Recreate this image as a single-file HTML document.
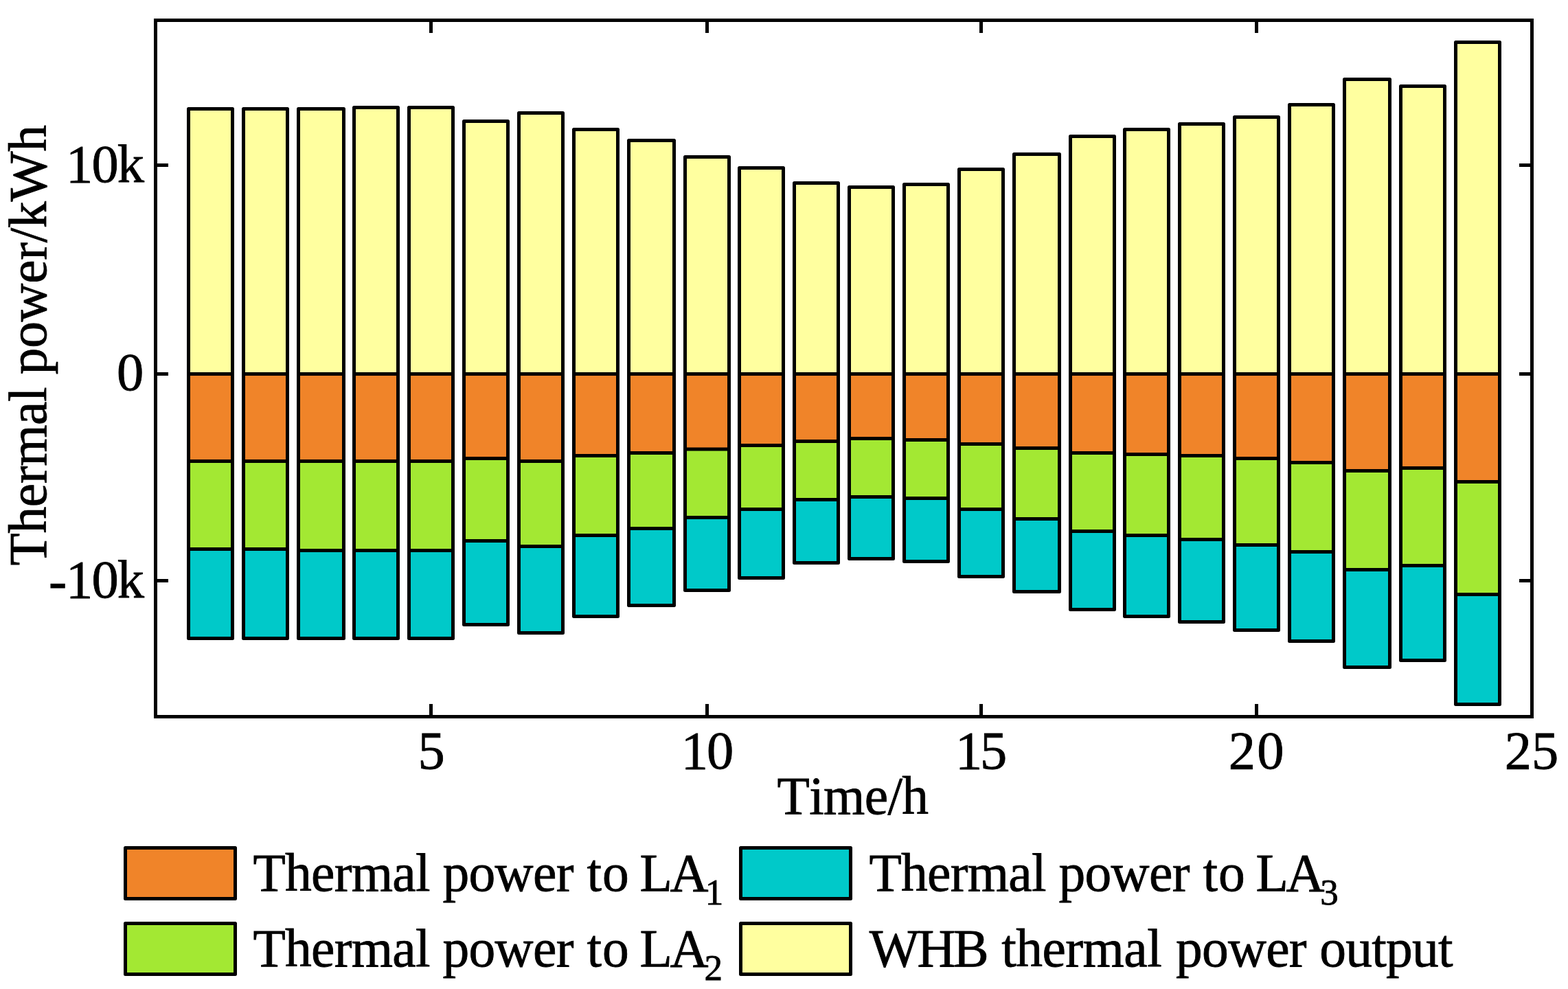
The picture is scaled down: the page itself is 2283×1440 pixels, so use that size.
<!DOCTYPE html>
<html><head><meta charset="utf-8"><title>Thermal power chart</title>
<style>html,body{margin:0;padding:0;background:#fff;width:2283px;height:1440px;overflow:hidden}</style>
</head><body>
<svg width="2283" height="1440" viewBox="0 0 2283 1440" style="display:block">
<rect x="0" y="0" width="2283" height="1440" fill="#fff"/>
<g>
<rect x="274.5" y="158.5" width="64" height="386.0" fill="#FFFF9F"/>
<rect x="274.5" y="544.5" width="64" height="127.0" fill="#F08429"/>
<rect x="274.5" y="671.5" width="64" height="128.0" fill="#A3E833"/>
<rect x="274.5" y="799.5" width="64" height="130.0" fill="#00C9C9"/>
<rect x="274.5" y="158.5" width="64" height="771.0" fill="none" stroke="#000" stroke-width="5" stroke-linejoin="round"/>
<path d="M274.5 544.5h64M274.5 671.5h64M274.5 799.5h64" stroke="#000" stroke-width="5"/>
<rect x="354.5" y="158.5" width="64" height="386.0" fill="#FFFF9F"/>
<rect x="354.5" y="544.5" width="64" height="127.0" fill="#F08429"/>
<rect x="354.5" y="671.5" width="64" height="128.0" fill="#A3E833"/>
<rect x="354.5" y="799.5" width="64" height="130.0" fill="#00C9C9"/>
<rect x="354.5" y="158.5" width="64" height="771.0" fill="none" stroke="#000" stroke-width="5" stroke-linejoin="round"/>
<path d="M354.5 544.5h64M354.5 671.5h64M354.5 799.5h64" stroke="#000" stroke-width="5"/>
<rect x="434.5" y="158.5" width="66" height="386.0" fill="#FFFF9F"/>
<rect x="434.5" y="544.5" width="66" height="127.0" fill="#F08429"/>
<rect x="434.5" y="671.5" width="66" height="130.0" fill="#A3E833"/>
<rect x="434.5" y="801.5" width="66" height="128.0" fill="#00C9C9"/>
<rect x="434.5" y="158.5" width="66" height="771.0" fill="none" stroke="#000" stroke-width="5" stroke-linejoin="round"/>
<path d="M434.5 544.5h66M434.5 671.5h66M434.5 801.5h66" stroke="#000" stroke-width="5"/>
<rect x="515.5" y="156.5" width="64" height="388.0" fill="#FFFF9F"/>
<rect x="515.5" y="544.5" width="64" height="127.0" fill="#F08429"/>
<rect x="515.5" y="671.5" width="64" height="130.0" fill="#A3E833"/>
<rect x="515.5" y="801.5" width="64" height="128.0" fill="#00C9C9"/>
<rect x="515.5" y="156.5" width="64" height="773.0" fill="none" stroke="#000" stroke-width="5" stroke-linejoin="round"/>
<path d="M515.5 544.5h64M515.5 671.5h64M515.5 801.5h64" stroke="#000" stroke-width="5"/>
<rect x="595.5" y="156.5" width="64" height="388.0" fill="#FFFF9F"/>
<rect x="595.5" y="544.5" width="64" height="127.0" fill="#F08429"/>
<rect x="595.5" y="671.5" width="64" height="130.0" fill="#A3E833"/>
<rect x="595.5" y="801.5" width="64" height="128.0" fill="#00C9C9"/>
<rect x="595.5" y="156.5" width="64" height="773.0" fill="none" stroke="#000" stroke-width="5" stroke-linejoin="round"/>
<path d="M595.5 544.5h64M595.5 671.5h64M595.5 801.5h64" stroke="#000" stroke-width="5"/>
<rect x="675.5" y="176.5" width="64" height="368.0" fill="#FFFF9F"/>
<rect x="675.5" y="544.5" width="64" height="123.0" fill="#F08429"/>
<rect x="675.5" y="667.5" width="64" height="120.0" fill="#A3E833"/>
<rect x="675.5" y="787.5" width="64" height="122.0" fill="#00C9C9"/>
<rect x="675.5" y="176.5" width="64" height="733.0" fill="none" stroke="#000" stroke-width="5" stroke-linejoin="round"/>
<path d="M675.5 544.5h64M675.5 667.5h64M675.5 787.5h64" stroke="#000" stroke-width="5"/>
<rect x="755.5" y="164.5" width="64" height="380.0" fill="#FFFF9F"/>
<rect x="755.5" y="544.5" width="64" height="127.0" fill="#F08429"/>
<rect x="755.5" y="671.5" width="64" height="124.0" fill="#A3E833"/>
<rect x="755.5" y="795.5" width="64" height="126.0" fill="#00C9C9"/>
<rect x="755.5" y="164.5" width="64" height="757.0" fill="none" stroke="#000" stroke-width="5" stroke-linejoin="round"/>
<path d="M755.5 544.5h64M755.5 671.5h64M755.5 795.5h64" stroke="#000" stroke-width="5"/>
<rect x="835.5" y="188.5" width="64" height="356.0" fill="#FFFF9F"/>
<rect x="835.5" y="544.5" width="64" height="119.0" fill="#F08429"/>
<rect x="835.5" y="663.5" width="64" height="116.0" fill="#A3E833"/>
<rect x="835.5" y="779.5" width="64" height="118.0" fill="#00C9C9"/>
<rect x="835.5" y="188.5" width="64" height="709.0" fill="none" stroke="#000" stroke-width="5" stroke-linejoin="round"/>
<path d="M835.5 544.5h64M835.5 663.5h64M835.5 779.5h64" stroke="#000" stroke-width="5"/>
<rect x="915.5" y="204.5" width="66" height="340.0" fill="#FFFF9F"/>
<rect x="915.5" y="544.5" width="66" height="115.0" fill="#F08429"/>
<rect x="915.5" y="659.5" width="66" height="110.0" fill="#A3E833"/>
<rect x="915.5" y="769.5" width="66" height="112.0" fill="#00C9C9"/>
<rect x="915.5" y="204.5" width="66" height="677.0" fill="none" stroke="#000" stroke-width="5" stroke-linejoin="round"/>
<path d="M915.5 544.5h66M915.5 659.5h66M915.5 769.5h66" stroke="#000" stroke-width="5"/>
<rect x="997.5" y="228.5" width="64" height="316.0" fill="#FFFF9F"/>
<rect x="997.5" y="544.5" width="64" height="109.5" fill="#F08429"/>
<rect x="997.5" y="654" width="64" height="99.5" fill="#A3E833"/>
<rect x="997.5" y="753.5" width="64" height="106.0" fill="#00C9C9"/>
<rect x="997.5" y="228.5" width="64" height="631.0" fill="none" stroke="#000" stroke-width="5" stroke-linejoin="round"/>
<path d="M997.5 544.5h64M997.5 654h64M997.5 753.5h64" stroke="#000" stroke-width="5"/>
<rect x="1076.5" y="244.5" width="64" height="300.0" fill="#FFFF9F"/>
<rect x="1076.5" y="544.5" width="64" height="104.0" fill="#F08429"/>
<rect x="1076.5" y="648.5" width="64" height="93.0" fill="#A3E833"/>
<rect x="1076.5" y="741.5" width="64" height="100.0" fill="#00C9C9"/>
<rect x="1076.5" y="244.5" width="64" height="597.0" fill="none" stroke="#000" stroke-width="5" stroke-linejoin="round"/>
<path d="M1076.5 544.5h64M1076.5 648.5h64M1076.5 741.5h64" stroke="#000" stroke-width="5"/>
<rect x="1156.5" y="266.5" width="64" height="278.0" fill="#FFFF9F"/>
<rect x="1156.5" y="544.5" width="64" height="98.0" fill="#F08429"/>
<rect x="1156.5" y="642.5" width="64" height="85.0" fill="#A3E833"/>
<rect x="1156.5" y="727.5" width="64" height="92.0" fill="#00C9C9"/>
<rect x="1156.5" y="266.5" width="64" height="553.0" fill="none" stroke="#000" stroke-width="5" stroke-linejoin="round"/>
<path d="M1156.5 544.5h64M1156.5 642.5h64M1156.5 727.5h64" stroke="#000" stroke-width="5"/>
<rect x="1236.5" y="272.5" width="64" height="272.0" fill="#FFFF9F"/>
<rect x="1236.5" y="544.5" width="64" height="94.0" fill="#F08429"/>
<rect x="1236.5" y="638.5" width="64" height="85.0" fill="#A3E833"/>
<rect x="1236.5" y="723.5" width="64" height="90.0" fill="#00C9C9"/>
<rect x="1236.5" y="272.5" width="64" height="541.0" fill="none" stroke="#000" stroke-width="5" stroke-linejoin="round"/>
<path d="M1236.5 544.5h64M1236.5 638.5h64M1236.5 723.5h64" stroke="#000" stroke-width="5"/>
<rect x="1316.5" y="268.5" width="64" height="276.0" fill="#FFFF9F"/>
<rect x="1316.5" y="544.5" width="64" height="96.0" fill="#F08429"/>
<rect x="1316.5" y="640.5" width="64" height="85.0" fill="#A3E833"/>
<rect x="1316.5" y="725.5" width="64" height="92.0" fill="#00C9C9"/>
<rect x="1316.5" y="268.5" width="64" height="549.0" fill="none" stroke="#000" stroke-width="5" stroke-linejoin="round"/>
<path d="M1316.5 544.5h64M1316.5 640.5h64M1316.5 725.5h64" stroke="#000" stroke-width="5"/>
<rect x="1396.5" y="246.5" width="64" height="298.0" fill="#FFFF9F"/>
<rect x="1396.5" y="544.5" width="64" height="102.0" fill="#F08429"/>
<rect x="1396.5" y="646.5" width="64" height="95.0" fill="#A3E833"/>
<rect x="1396.5" y="741.5" width="64" height="98.0" fill="#00C9C9"/>
<rect x="1396.5" y="246.5" width="64" height="593.0" fill="none" stroke="#000" stroke-width="5" stroke-linejoin="round"/>
<path d="M1396.5 544.5h64M1396.5 646.5h64M1396.5 741.5h64" stroke="#000" stroke-width="5"/>
<rect x="1476.5" y="224.5" width="66" height="320.0" fill="#FFFF9F"/>
<rect x="1476.5" y="544.5" width="66" height="108.0" fill="#F08429"/>
<rect x="1476.5" y="652.5" width="66" height="103.0" fill="#A3E833"/>
<rect x="1476.5" y="755.5" width="66" height="106.0" fill="#00C9C9"/>
<rect x="1476.5" y="224.5" width="66" height="637.0" fill="none" stroke="#000" stroke-width="5" stroke-linejoin="round"/>
<path d="M1476.5 544.5h66M1476.5 652.5h66M1476.5 755.5h66" stroke="#000" stroke-width="5"/>
<rect x="1558.5" y="198.5" width="64" height="346.0" fill="#FFFF9F"/>
<rect x="1558.5" y="544.5" width="64" height="115.0" fill="#F08429"/>
<rect x="1558.5" y="659.5" width="64" height="114.0" fill="#A3E833"/>
<rect x="1558.5" y="773.5" width="64" height="114.0" fill="#00C9C9"/>
<rect x="1558.5" y="198.5" width="64" height="689.0" fill="none" stroke="#000" stroke-width="5" stroke-linejoin="round"/>
<path d="M1558.5 544.5h64M1558.5 659.5h64M1558.5 773.5h64" stroke="#000" stroke-width="5"/>
<rect x="1637.5" y="188.5" width="64" height="356.0" fill="#FFFF9F"/>
<rect x="1637.5" y="544.5" width="64" height="117.0" fill="#F08429"/>
<rect x="1637.5" y="661.5" width="64" height="118.0" fill="#A3E833"/>
<rect x="1637.5" y="779.5" width="64" height="118.0" fill="#00C9C9"/>
<rect x="1637.5" y="188.5" width="64" height="709.0" fill="none" stroke="#000" stroke-width="5" stroke-linejoin="round"/>
<path d="M1637.5 544.5h64M1637.5 661.5h64M1637.5 779.5h64" stroke="#000" stroke-width="5"/>
<rect x="1717.5" y="180.5" width="64" height="364.0" fill="#FFFF9F"/>
<rect x="1717.5" y="544.5" width="64" height="119.0" fill="#F08429"/>
<rect x="1717.5" y="663.5" width="64" height="122.0" fill="#A3E833"/>
<rect x="1717.5" y="785.5" width="64" height="120.0" fill="#00C9C9"/>
<rect x="1717.5" y="180.5" width="64" height="725.0" fill="none" stroke="#000" stroke-width="5" stroke-linejoin="round"/>
<path d="M1717.5 544.5h64M1717.5 663.5h64M1717.5 785.5h64" stroke="#000" stroke-width="5"/>
<rect x="1797.5" y="170.5" width="64" height="374.0" fill="#FFFF9F"/>
<rect x="1797.5" y="544.5" width="64" height="123.0" fill="#F08429"/>
<rect x="1797.5" y="667.5" width="64" height="126.0" fill="#A3E833"/>
<rect x="1797.5" y="793.5" width="64" height="124.0" fill="#00C9C9"/>
<rect x="1797.5" y="170.5" width="64" height="747.0" fill="none" stroke="#000" stroke-width="5" stroke-linejoin="round"/>
<path d="M1797.5 544.5h64M1797.5 667.5h64M1797.5 793.5h64" stroke="#000" stroke-width="5"/>
<rect x="1877.5" y="152.5" width="64" height="392.0" fill="#FFFF9F"/>
<rect x="1877.5" y="544.5" width="64" height="129.0" fill="#F08429"/>
<rect x="1877.5" y="673.5" width="64" height="130.0" fill="#A3E833"/>
<rect x="1877.5" y="803.5" width="64" height="130.0" fill="#00C9C9"/>
<rect x="1877.5" y="152.5" width="64" height="781.0" fill="none" stroke="#000" stroke-width="5" stroke-linejoin="round"/>
<path d="M1877.5 544.5h64M1877.5 673.5h64M1877.5 803.5h64" stroke="#000" stroke-width="5"/>
<rect x="1957.5" y="115.5" width="66" height="429.0" fill="#FFFF9F"/>
<rect x="1957.5" y="544.5" width="66" height="141.0" fill="#F08429"/>
<rect x="1957.5" y="685.5" width="66" height="144.0" fill="#A3E833"/>
<rect x="1957.5" y="829.5" width="66" height="142.0" fill="#00C9C9"/>
<rect x="1957.5" y="115.5" width="66" height="856.0" fill="none" stroke="#000" stroke-width="5" stroke-linejoin="round"/>
<path d="M1957.5 544.5h66M1957.5 685.5h66M1957.5 829.5h66" stroke="#000" stroke-width="5"/>
<rect x="2039.5" y="125.5" width="64" height="419.0" fill="#FFFF9F"/>
<rect x="2039.5" y="544.5" width="64" height="137.0" fill="#F08429"/>
<rect x="2039.5" y="681.5" width="64" height="142.0" fill="#A3E833"/>
<rect x="2039.5" y="823.5" width="64" height="138.0" fill="#00C9C9"/>
<rect x="2039.5" y="125.5" width="64" height="836.0" fill="none" stroke="#000" stroke-width="5" stroke-linejoin="round"/>
<path d="M2039.5 544.5h64M2039.5 681.5h64M2039.5 823.5h64" stroke="#000" stroke-width="5"/>
<rect x="2119.5" y="61.5" width="64" height="483.0" fill="#FFFF9F"/>
<rect x="2119.5" y="544.5" width="64" height="157.0" fill="#F08429"/>
<rect x="2119.5" y="701.5" width="64" height="164.0" fill="#A3E833"/>
<rect x="2119.5" y="865.5" width="64" height="160.0" fill="#00C9C9"/>
<rect x="2119.5" y="61.5" width="64" height="964.0" fill="none" stroke="#000" stroke-width="5" stroke-linejoin="round"/>
<path d="M2119.5 544.5h64M2119.5 701.5h64M2119.5 865.5h64" stroke="#000" stroke-width="5"/>
</g>
<g fill="#000">
<rect x="224" y="27" width="2009" height="5"/>
<rect x="224" y="1041" width="2009" height="5"/>
<rect x="224" y="27" width="5" height="1019"/>
<rect x="2228" y="27" width="5" height="1019"/>
<rect x="625" y="32" width="5" height="16"/>
<rect x="625" y="1025" width="5" height="16"/>
<rect x="1027" y="32" width="5" height="16"/>
<rect x="1027" y="1025" width="5" height="16"/>
<rect x="1426" y="32" width="5" height="16"/>
<rect x="1426" y="1025" width="5" height="16"/>
<rect x="1827" y="32" width="5" height="16"/>
<rect x="1827" y="1025" width="5" height="16"/>
<rect x="229" y="238" width="16" height="5"/>
<rect x="2212" y="238" width="16" height="5"/>
<rect x="229" y="542" width="16" height="5"/>
<rect x="2212" y="542" width="16" height="5"/>
<rect x="229" y="843" width="16" height="5"/>
<rect x="2212" y="843" width="16" height="5"/>
</g>
<g style="font-family:'Liberation Serif','Times New Roman',Times,serif;font-kerning:none;font-variant-ligatures:none" fill="#000" stroke="#000" stroke-width="0.8">
<text y="1119.3" style="font-size:78.5px"><tspan x="608.44">5</tspan></text>
<text y="1119.3" style="font-size:78.5px"><tspan x="991.80" letter-spacing="-2.111">10</tspan></text>
<text y="1119.3" style="font-size:78.5px"><tspan x="1390.90" letter-spacing="-3.234">15</tspan></text>
<text y="1119.3" style="font-size:78.5px"><tspan x="1788.75" letter-spacing="2.339">20</tspan></text>
<text y="1119.3" style="font-size:78.5px"><tspan x="2190.65" letter-spacing="0.016">25</tspan></text>
<text y="265" style="font-size:78.5px"><tspan x="96.00" letter-spacing="-1.875">10k</tspan></text>
<text y="568" style="font-size:78.5px"><tspan x="170.01">0</tspan></text>
<text y="870" style="font-size:78.5px"><tspan x="70.99" dy="2">-</tspan><tspan x="96.00" letter-spacing="-1.875" dy="-2">10k</tspan></text>
<text y="1185" style="font-size:77.5px"><tspan x="1131.50" letter-spacing="-0.662">Time/h</tspan></text>
<g transform="rotate(-90)"><text y="67" style="font-size:77.5px"><tspan x="-823.40" letter-spacing="-0.426">Thermal</tspan> <tspan x="-545.25" letter-spacing="-0.323">power/kWh</tspan></text></g>
<rect x="182.5" y="1234.5" width="160" height="74" fill="#F08429" stroke="#000" stroke-width="5" stroke-linejoin="round"/>
<rect x="182.5" y="1344.5" width="160" height="74" fill="#A3E833" stroke="#000" stroke-width="5" stroke-linejoin="round"/>
<rect x="1078.5" y="1234.5" width="160" height="74" fill="#00C9C9" stroke="#000" stroke-width="5" stroke-linejoin="round"/>
<rect x="1078.5" y="1344.5" width="160" height="74" fill="#FFFF9F" stroke="#000" stroke-width="5" stroke-linejoin="round"/>
<text y="1297" style="font-size:77.5px"><tspan x="368.40" letter-spacing="-0.743">Thermal</tspan> <tspan x="644.45" letter-spacing="-0.661">power</tspan> <tspan x="854.54" letter-spacing="1.027">to</tspan> <tspan x="931.57" letter-spacing="-3.508">LA</tspan><tspan x="1026.84" y="1317" style="font-size:53px">1</tspan></text>
<text y="1407" style="font-size:77.5px"><tspan x="368.40" letter-spacing="-0.743">Thermal</tspan> <tspan x="644.45" letter-spacing="-0.661">power</tspan> <tspan x="854.54" letter-spacing="1.027">to</tspan> <tspan x="931.57" letter-spacing="-3.508">LA</tspan><tspan x="1025.57" y="1427" style="font-size:53px">2</tspan></text>
<text y="1297" style="font-size:77.5px"><tspan x="1265.40" letter-spacing="-0.743">Thermal</tspan> <tspan x="1541.45" letter-spacing="-0.661">power</tspan> <tspan x="1751.54" letter-spacing="1.027">to</tspan> <tspan x="1828.57" letter-spacing="-3.508">LA</tspan><tspan x="1922.16" y="1317" style="font-size:53px">3</tspan></text>
<text y="1407" style="font-size:77.5px"><tspan x="1265.72" letter-spacing="-3.374">WHB</tspan> <tspan x="1458.24" letter-spacing="-0.532">thermal</tspan> <tspan x="1712.05" letter-spacing="-0.786">power</tspan> <tspan x="1921.25" letter-spacing="-0.732">output</tspan></text>
</g>
</svg>
</body></html>
